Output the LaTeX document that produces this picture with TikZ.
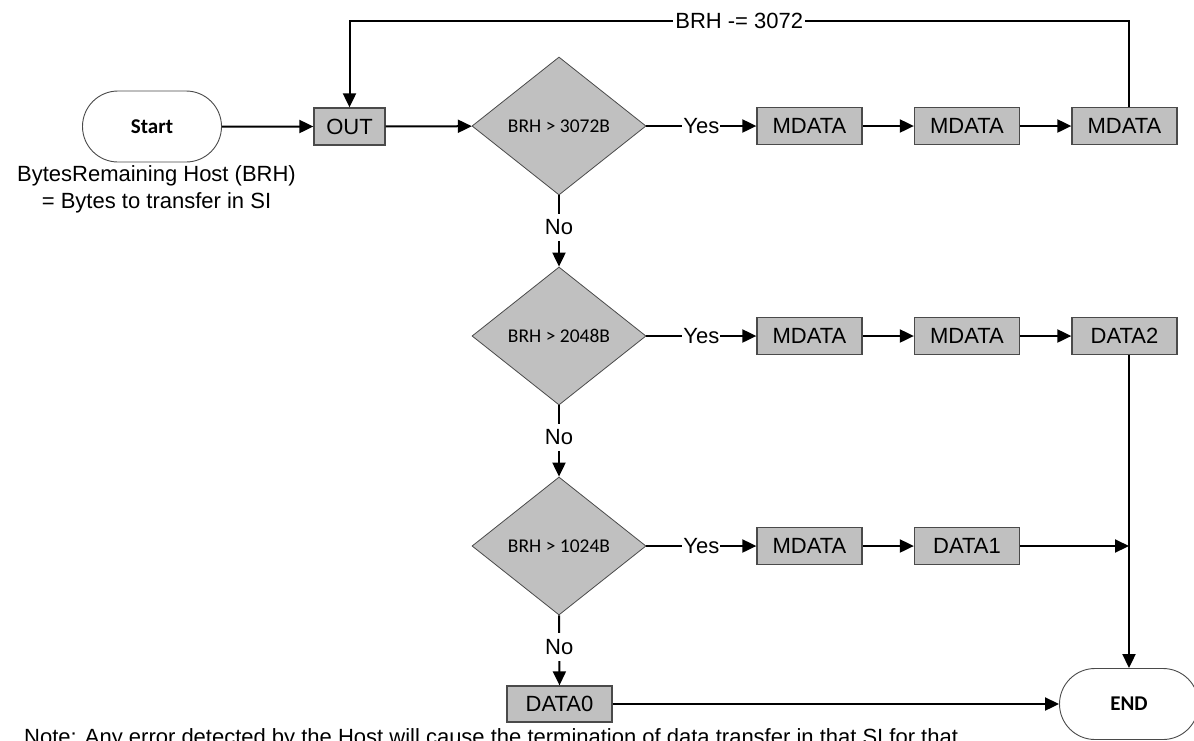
\documentclass[tikz,border=0pt]{standalone}
\usepackage{fontspec}
\setmainfont{Liberation Sans}
\newfontfamily\carlito{Carlito}
\usetikzlibrary{shapes.geometric,shapes.misc,arrows.meta,calc}
\definecolor{boxgray}{HTML}{C0C0C0}
\definecolor{edgegray}{HTML}{4A4A4A}
\begin{document}
\begin{tikzpicture}[x=1pt,y=-1pt,
  every node/.style={font=\fontsize{22}{27}\selectfont},
  procbox/.style={draw=edgegray,line width=1.3pt,fill=boxgray,minimum width=105pt,minimum height=37pt,inner sep=0pt},
  decide/.style={diamond,draw=edgegray,line width=0.8pt,fill=boxgray,minimum width=174pt,minimum height=138pt,inner sep=0pt,
    font=\carlito\fontsize{19.5}{22}\selectfont},
  terminal/.style={rounded rectangle,draw=edgegray,line width=0.9pt,fill=white,minimum width=139pt,minimum height=71pt,inner sep=0pt,
    font=\carlito\bfseries\fontsize{21}{24}\selectfont},
  flow/.style={line width=2pt,-{Triangle[length=14pt,width=13pt]}},
  lbl/.style={fill=white,inner xsep=1pt,inner ysep=6pt},
]
\useasboundingbox (0,0) rectangle (1194,740);
\clip (0,0) rectangle (1194,740);

% terminals
\node[terminal] (start) at (152,126.5) {Start};
\node[terminal] (endn) at (1129,704) {END};
\node[align=center] (brhnote) at (156.5,189.5) {BytesRemaining Host (BRH)\\= Bytes to transfer in SI};

% first row
\node[procbox,minimum width=71pt] (out) at (349.5,126.5) {OUT};
\node[decide] (d1) at (559,126) {BRH > 3072B};
\node[procbox] (m11) at (809.5,126) {MDATA};
\node[procbox] (m12) at (967,126) {MDATA};
\node[procbox] (m13) at (1124.5,126) {MDATA};

% second row
\node[decide] (d2) at (559,336) {BRH > 2048B};
\node[procbox] (m21) at (809.5,336) {MDATA};
\node[procbox] (m22) at (967,336) {MDATA};
\node[procbox] (dat2) at (1124.5,336) {DATA2};

% third row
\node[decide] (d3) at (559,546) {BRH > 1024B};
\node[procbox] (m31) at (809.5,546) {MDATA};
\node[procbox] (dat1) at (967,546) {DATA1};

% last case
\node[procbox,minimum height=36pt] (dat0) at (559.5,704) {DATA0};

% connectors
\draw[flow] (start) -- (out);
\draw[flow] (out) -- (d1);
\draw[flow] (d1.east) -- node[lbl]{Yes} (m11.west);
\draw[flow] (m11) -- (m12);
\draw[flow] (m12) -- (m13);
\draw[flow] (m13.north -| endn.north) -- ++(0,-86.3) -| node[pos=0.25,lbl,inner xsep=2pt]{BRH -= 3072} (out.north);

\draw[flow] (d1.south) -- node[lbl,pos=0.45]{No} (d2.north);
\draw[flow] (d2.east) -- node[lbl]{Yes} (m21.west);
\draw[flow] (m21) -- (m22);
\draw[flow] (m22) -- (dat2);
\draw[flow] (dat2.south -| endn.north) -- (endn.north);

\draw[flow] (d2.south) -- node[lbl,pos=0.45]{No} (d3.north);
\draw[flow] (d3.east) -- node[lbl]{Yes} (m31.west);
\draw[flow] (m31) -- (dat1);
\draw[flow] (dat1.east) -- (dat1.east -| endn.north);

\draw[flow] (d3.south) -- node[lbl,pos=0.45]{No} (dat0.north);
\draw[flow] (dat0.east) -- (endn.west);

% footnote, running off the lower edge
\node[anchor=base west,inner sep=0pt] (footnote) at (24,744) {Note: Any error detected by the Host will cause the termination of data transfer in that SI for that};
\end{tikzpicture}
\end{document}
